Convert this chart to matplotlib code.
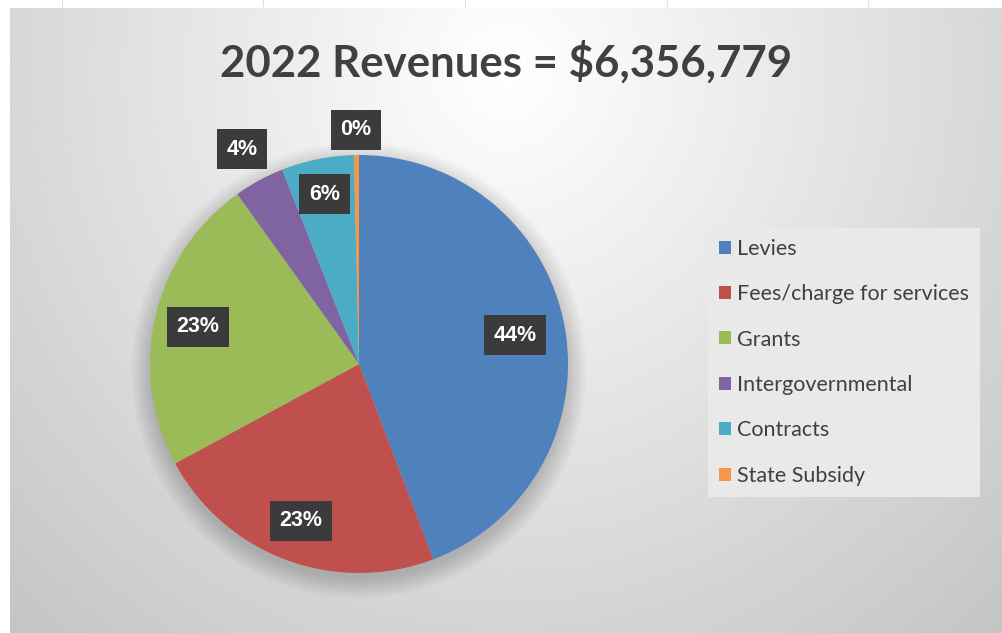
import numpy as np
import matplotlib.pyplot as plt
from matplotlib.patches import Circle

title = '2022 Revenues = $6,356,779'
categories = ['Levies', 'Fees/charge for services', 'Grants',
              'Intergovernmental', 'Contracts', 'State Subsidy']
revenues = [2810000, 1456000, 1462000, 248000, 356000, 24779]
colors = ['#4f81bd', '#c0504d', '#9bbb59', '#8064a2', '#4bacc6', '#f79646']
label_dist = [0.76, 0.80, 0.79, 1.17, 0.83, 1.12]   # label radius per slice

W, H = 1003, 633
fig = plt.figure(figsize=(W / 100, H / 100), dpi=100)
fig.patch.set_facecolor('white')

# chart area background (soft radial gradient like the Excel style)
bg = fig.add_axes([10 / W, 0, 1 - 10 / W, 1 - 8 / H])
yy, xx = np.mgrid[0:1:300j, 0:1:480j]
r = np.sqrt(((xx - 0.5) / 0.6) ** 2 + ((yy - 0.1) / 1.0) ** 2)
shade = (255 - 48 * np.clip(r, 0, 1.3)) / 255
bg.imshow(shade, cmap='gray', vmin=0, vmax=1, aspect='auto',
          extent=[0, 1, 1, 0], interpolation='bilinear')
bg.set_axis_off()

# faint sheet grid strip on top
for gx in [62, 263, 465, 667, 868]:
    fig.add_artist(plt.Line2D([gx / W, gx / W], [1 - 6 / H, 1], color='#dddddd', lw=0.8))

# pie axes: centre (359, 364), radius 209 px
cx, cy, R = 359, 364, 209
ax = fig.add_axes([(cx - R) / W, (H - cy - R) / H, 2 * R / W, 2 * R / H])

# soft shadow
for i in range(14):
    ax.add_patch(Circle((0.0, -0.03), 1.0 + 0.007 * i, color='black',
                        alpha=0.011, lw=0, zorder=0, clip_on=False))

wedges, _ = ax.pie(revenues, colors=colors, startangle=90, counterclock=False,
                   radius=1, wedgeprops=dict(linewidth=0))
for w in wedges:
    w.set_zorder(2)
ax.set_xlim(-1, 1)
ax.set_ylim(-1, 1)
ax.set_axis_off()

total = sum(revenues)
for w, v, d in zip(wedges, revenues, label_dist):
    ang = np.deg2rad((w.theta1 + w.theta2) / 2)
    ax.text(d * np.cos(ang), d * np.sin(ang), f'{v / total:.0%}',
            ha='center', va='center', color='white', fontsize=15.5,
            fontweight='bold', family='Liberation Sans', zorder=5,
            bbox=dict(boxstyle='square,pad=0.45', facecolor='#3b3b3b',
                      edgecolor='none'))

fig.text(506 / W, 1 - 62 / H, title, ha='center', va='center',
         fontsize=31.5, fontweight='bold', color='#404040', family='Lato')

leg = fig.legend(wedges, categories, loc='upper left',
                 bbox_to_anchor=(708 / W, 1 - 228 / H),
                 frameon=True, fancybox=False, facecolor='#e9e9e9',
                 edgecolor='none', framealpha=1,
                 prop=dict(family='Lato', size=15.5),
                 labelcolor='#404040', handlelength=0.55, handleheight=0.55,
                 handletextpad=0.3, labelspacing=1.18, borderpad=0.5,
                 borderaxespad=0)

fig.savefig('out.png', dpi=100)
